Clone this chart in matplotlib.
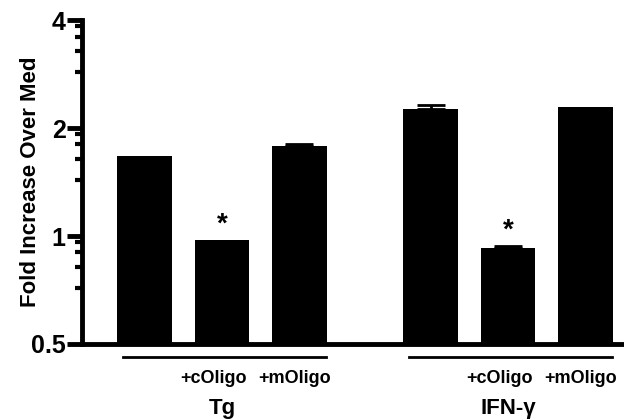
import numpy as np
import matplotlib
matplotlib.use('Agg')
import matplotlib.pyplot as plt
from matplotlib.ticker import FixedLocator, NullFormatter

# data
groups = ['Tg', 'IFN-\u03b3']
conditions = ['', '+cOligo', '+mOligo']
values = [1.67, 0.975, 1.78, 2.26, 0.926, 2.29]
err_up = [0.0, 0.0, 0.025, 0.06, 0.012, 0.0]
stars = [False, True, False, False, True, False]
positions = [0, 1, 2, 3.7, 4.7, 5.7]

plt.rcParams['font.family'] = ['Liberation Sans', 'DejaVu Sans']
plt.rcParams['font.weight'] = 'bold'

fig = plt.figure(figsize=(6.24, 4.19), dpi=100)
ax = fig.add_axes([0.131, 0.179, 0.869, 0.773])

ax.bar(positions, values, width=0.71, color='black', bottom=0.001)
# only bars with a visible error get a cap
for x, v, e in zip(positions, values, err_up):
    if e > 0:
        ax.errorbar([x], [v], yerr=[[0], [e]], fmt='none', ecolor='black',
                    elinewidth=2, capsize=10, capthick=2)
for x, v, e, s in zip(positions, values, err_up, stars):
    if s:
        ax.text(x, (v + e) * 1.015, '*', ha='center', va='bottom', fontsize=20, fontweight='bold')

ax.set_yscale('log', base=2)
ax.set_ylim(0.5, 4)
ax.set_xlim(-0.815, 6.2)
ax.set_yticks([0.5, 1, 2, 4])
ax.set_yticklabels(['0.5', '1', '2', '4'])
minor = []
for base in [0.5, 1, 2]:
    for f in [1.43, 1.64, 1.8, 1.92]:
        minor.append(base * f)
ax.yaxis.set_minor_locator(FixedLocator(minor))
ax.yaxis.set_minor_formatter(NullFormatter())
ax.tick_params(axis='y', which='major', length=10.5, width=3.5, labelsize=18, pad=1)
ax.tick_params(axis='y', which='minor', length=5, width=3)
ax.set_xticks([])

ax.spines['top'].set_visible(False)
ax.spines['right'].set_visible(False)
ax.spines['left'].set_linewidth(3.5)
ax.spines['bottom'].set_linewidth(3.5)
ax.spines['bottom'].set_capstyle('butt')

ax.set_ylabel('Fold Increase Over Med', fontsize=16, fontweight='bold', labelpad=-7)

trans = ax.get_xaxis_transform()
shift = [0, -0.11, -0.06]
for g, name in enumerate(groups):
    p = positions[g * 3:(g + 1) * 3]
    ax.plot([p[0] - 0.28, p[2] + 0.35], [-0.04, -0.04], color='black', lw=2,
            transform=trans, clip_on=False)
    for i in range(1, 3):
        ax.text(p[i] + shift[i], -0.105, conditions[i], transform=trans,
                ha='center', va='center', fontsize=13, fontweight='bold')
    ax.text(p[1], -0.2, name, transform=trans, ha='center', va='center',
            fontsize=16, fontweight='bold')

fig.savefig('out.png', dpi=100)
